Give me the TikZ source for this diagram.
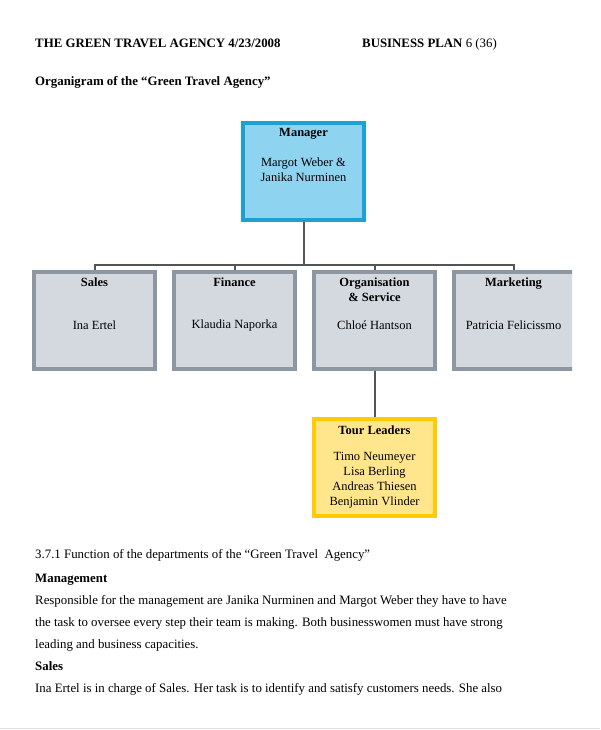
\documentclass[tikz,border=0pt]{standalone}
\usepackage{fontspec}
\setmainfont{Liberation Serif}
\definecolor{mgrborder}{RGB}{30,160,215}
\definecolor{mgrfill}{RGB}{142,212,240}
\definecolor{depborder}{RGB}{140,151,162}
\definecolor{depfill}{RGB}{212,216,223}
\definecolor{tourborder}{RGB}{255,204,0}
\definecolor{tourfill}{RGB}{255,230,140}
\definecolor{linkcol}{RGB}{85,85,85}
\begin{document}
\begin{tikzpicture}[x=1pt,y=-1pt,
  box/.style={rectangle,line width=4pt,minimum width=121pt,minimum height=97pt,inner sep=0pt},
  mgr/.style={box,draw=mgrborder,fill=mgrfill},
  dep/.style={box,draw=depborder,fill=depfill},
  tour/.style={box,draw=tourborder,fill=tourfill},
  link/.style={draw=linkcol,line width=2pt},
  txt/.style={font=\fontsize{12.5}{15}\selectfont,inner sep=0pt,align=center},
  bold/.style={txt,font=\fontsize{12.5}{15}\selectfont\bfseries},
  body/.style={font=\fontsize{12.85}{15}\selectfont,inner sep=0pt,anchor=base west}]
\useasboundingbox (0,0) rectangle (600,730);
\fill[white] (0,0) rectangle (600,730);
% header
\node[body] (h1) at (35,48) {\bfseries THE GREEN TRAVEL AGENCY 4/23/2008};
\node[body] (h2) at (362,48) {\textbf{BUSINESS PLAN} 6 (36)};
\node[body] (h3) at (35,86) {\bfseries Organigram of the “Green Travel Agency”};
% boxes
\node[mgr] (mgr) at (303.5,171.5) {};
\node[dep] (sales) at (94.5,320.5) {};
\node[dep] (fin) at (234.5,320.5) {};
\node[dep] (org) at (374.5,320.5) {};
\begin{scope}
\clip (440,250) rectangle (572,380);
\node[dep] (mkt) at (514,320.5) {};
\end{scope}
\node[tour] (tl) at (374.5,467.5) {};
% connectors
\coordinate (hub) at (303.5,265);
\draw[link] (mgr.south) -- (hub);
\draw[link] (sales.north) |- (hub) -| (mkt.north);
\draw[link] (fin.north) -- (fin.north |- hub);
\draw[link] (org.north) -- (org.north |- hub);
\draw[link] (org.south) -- (tl.north);
% texts
\node[bold] (mgrt) at (303.5,134) {Manager};
\node[txt] (mgrn) at (303.5,170) {Margot Weber \&\\Janika Nurminen};
\node[bold] (st) at (94.5,282.5) {Sales};
\node[txt] (sn) at (94.5,325) {Ina Ertel};
\node[bold] (ft) at (234.5,282.5) {Finance};
\node[txt] (fn) at (234.5,325) {Klaudia Naporka};
\node[bold] (ot) at (374.5,289.5) {Organisation\\\& Service};
\node[txt] (on) at (374.5,325) {Chloé Hantson};
\node[bold] (mt) at (513.5,283.5) {Marketing};
\node[txt] (mn) at (513.5,325) {Patricia Felicissmo};
\node[bold] (tt) at (374.5,430.5) {Tour Leaders};
\node[txt] (tn) at (374.5,480) {Timo Neumeyer\\Lisa Berling\\Andreas Thiesen\\Benjamin Vlinder};
% body text
\node[body] (b1) at (35,558) {3.7.1 Function of the departments of the “Green Travel\ \ Agency”};
\node[body] (b2) at (35,582) {\bfseries Management};
\node[body] (b3) at (35,604) {Responsible for the management are Janika Nurminen and Margot Weber they have to have};
\node[body] (b4) at (35,626) {the task to oversee every step their team is making. Both businesswomen must have strong};
\node[body] (b5) at (35,648) {leading and business capacities.};
\node[body] (b6) at (35,670) {\bfseries Sales};
\node[body] (b7) at (35,692) {Ina Ertel is in charge of Sales. Her task is to identify and satisfy customers needs. She also};
\draw[black!12,line width=1pt] (0,728.5) -- (600,728.5);
\end{tikzpicture}
\end{document}
